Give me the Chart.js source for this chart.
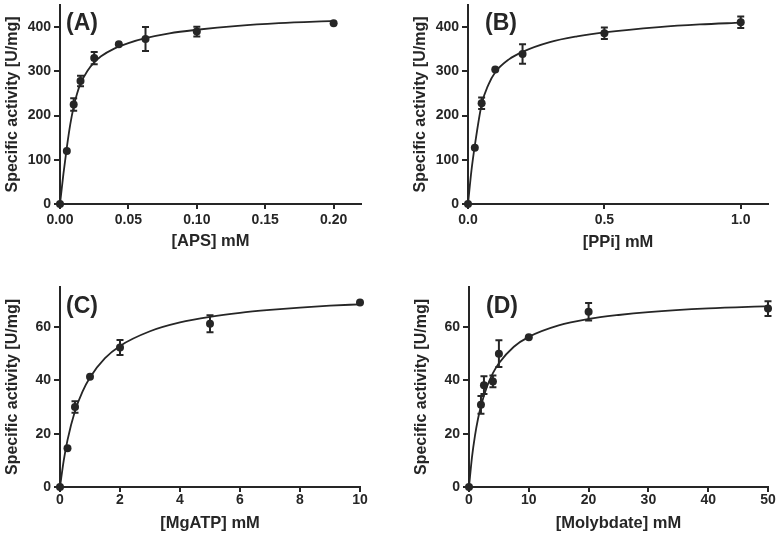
<!DOCTYPE html>
<html>
<head>
<meta charset="utf-8">
<script src="https://cdn.jsdelivr.net/npm/chart.js@4.4.1/dist/chart.umd.min.js"></script>
<style>
html,body{margin:0;padding:0;background:#ffffff;}
#wrap{position:relative;width:781px;height:541px;overflow:hidden;background:#ffffff;}
canvas{position:absolute;}
</style>
</head>
<body>
<div id="wrap">
<canvas id="cA" width="390" height="270" style="left:0px;top:0px"></canvas>
<canvas id="cB" width="373" height="270" style="left:408px;top:0px"></canvas>
<canvas id="cC" width="382" height="259" style="left:0px;top:282px"></canvas>
<canvas id="cD" width="372" height="259" style="left:409px;top:282px"></canvas>
</div>
<script>
// ---------- Panel A: [APS] ----------
const apsConc   = [0, 0.005, 0.01, 0.015, 0.025, 0.043, 0.0625, 0.1, 0.2];
const apsAct    = [0, 120, 225, 278, 330, 361, 373, 390, 409];
const apsErr    = [0, 0, 14, 12, 14, 0, 27, 11, 0];
const apsFitX   = [0, 0.0025, 0.005, 0.0075, 0.01, 0.0125, 0.015, 0.02, 0.025, 0.03, 0.04, 0.05, 0.0625, 0.08, 0.1, 0.13, 0.16, 0.2];
const apsFitY   = [0, 68, 128, 180, 220, 250, 272, 301, 320, 334, 352, 364, 375, 386, 394, 403, 409, 414];
const apsXTicks = [0, 0.05, 0.10, 0.15, 0.20];
const apsXLabels= ["0.00", "0.05", "0.10", "0.15", "0.20"];

// ---------- Panel B: [PPi] ----------
const ppiConc   = [0, 0.025, 0.05, 0.1, 0.2, 0.5, 1.0];
const ppiAct    = [0, 127, 228, 304, 339, 386, 411];
const ppiErr    = [0, 0, 13, 0, 22, 13, 13];
const ppiFitX   = [0, 0.0125, 0.025, 0.05, 0.075, 0.1, 0.15, 0.2, 0.3, 0.4, 0.5, 0.7, 0.85, 1.0];
const ppiFitY   = [0, 75, 132, 225, 270, 298, 327, 344, 366, 379, 388, 400, 406, 410];
const ppiXTicks = [0, 0.5, 1.0];
const ppiXLabels= ["0.0", "0.5", "1.0"];

// shared y ticks for top panels
const topYTicks  = [0, 100, 200, 300, 400];
const topYLabels = ["0", "100", "200", "300", "400"];

// ---------- Panel C: [MgATP] ----------
const atpConc   = [0, 0.25, 0.5, 1, 2, 5, 10];
const atpAct    = [0, 14.5, 30, 41.3, 52.3, 61.2, 69.2];
const atpErr    = [0, 0, 2.2, 0, 2.8, 3.2, 0];
const atpFitX   = [0, 0.125, 0.25, 0.5, 0.75, 1, 1.5, 2, 3, 4, 5, 6, 7, 8, 9, 10];
const atpFitY   = [0, 10.0, 17.6, 28.5, 35.8, 41.1, 48.3, 52.9, 58.4, 61.7, 63.8, 65.3, 66.4, 67.3, 68.0, 68.5];
const atpXTicks = [0, 2, 4, 6, 8, 10];
const atpXLabels= ["0", "2", "4", "6", "8", "10"];

// ---------- Panel D: [Molybdate] ----------
const moConc    = [0, 2, 2.5, 4, 5, 10, 20, 50];
const moAct     = [0, 30.8, 38.2, 39.6, 50, 56.2, 65.7, 66.9];
const moErr     = [0, 3.3, 3.3, 2.2, 5, 0, 3.3, 2.8];
const moFitX    = [0, 0.5, 1, 1.5, 2, 3, 4, 5, 7.5, 10, 15, 20, 25, 30, 40, 50];
const moFitY    = [0, 11.2, 19.3, 25.5, 30.4, 37.6, 42.7, 46.4, 52.6, 56.3, 60.6, 63.0, 64.5, 65.6, 67.0, 67.8];
const moXTicks  = [0, 10, 20, 30, 40, 50];
const moXLabels = ["0", "10", "20", "30", "40", "50"];

// shared y ticks for bottom panels
const botYTicks  = [0, 20, 40, 60];
const botYLabels = ["0", "20", "40", "60"];

const yTitle = "Specific activity [U/mg]";

const INK  = '#262626';
const FONT = "'Liberation Sans', Arial, Helvetica, sans-serif";

const errorBars = {
  id: 'errorBars',
  afterDatasetsDraw(chart) {
    const ctx = chart.ctx, xs = chart.scales.x, ys = chart.scales.y;
    chart.data.datasets.forEach(ds => {
      if (!ds.errors) return;
      ctx.save();
      ctx.strokeStyle = INK;
      ctx.lineWidth = 2;
      ds.data.forEach((p, j) => {
        const e = ds.errors[j];
        if (!e) return;
        const px = xs.getPixelForValue(p.x);
        const y1 = ys.getPixelForValue(p.y - e);
        const y2 = ys.getPixelForValue(p.y + e);
        ctx.beginPath();
        ctx.moveTo(px, y1); ctx.lineTo(px, y2);
        ctx.moveTo(px - 3.5, y1); ctx.lineTo(px + 3.5, y1);
        ctx.moveTo(px - 3.5, y2); ctx.lineTo(px + 3.5, y2);
        ctx.stroke();
      });
      ctx.restore();
    });
  }
};

const panelLabel = {
  id: 'panelLabel',
  afterDraw(chart, args, opts) {
    const ctx = chart.ctx, ca = chart.chartArea;
    ctx.save();
    ctx.font = `bold 23px ${FONT}`;
    ctx.fillStyle = INK;
    ctx.textBaseline = 'alphabetic';
    ctx.textAlign = 'left';
    ctx.fillText(opts.text, ca.left + opts.dx, ca.top + opts.dy);
    ctx.restore();
  }
};

function pts(xs, ys) { return xs.map((v, i) => ({x: v, y: ys[i]})); }

function makePanel(id, p) {
  return new Chart(document.getElementById(id), {
    type: 'scatter',
    data: {
      datasets: [
        {
          data: pts(p.fitX, p.fitY),
          showLine: true,
          borderColor: INK,
          borderWidth: 1.8,
          pointRadius: 0,
          cubicInterpolationMode: 'monotone',
          fill: false,
          clip: false,
          order: 2
        },
        {
          data: pts(p.x, p.y),
          errors: p.err,
          showLine: false,
          pointRadius: 4,
          pointBackgroundColor: INK,
          pointBorderColor: INK,
          pointBorderWidth: 0,
          clip: false,
          order: 1
        }
      ]
    },
    options: {
      responsive: false,
      animation: false,
      devicePixelRatio: 1,
      layout: { padding: { left: 0, top: 5, right: p.padRight, bottom: 0 } },
      plugins: {
        legend: { display: false },
        tooltip: { enabled: false },
        panelLabel: { text: p.label, dx: p.labelDx, dy: p.labelDy }
      },
      scales: {
        x: {
          type: 'linear', min: 0, max: p.xMax,
          afterBuildTicks: s => { s.ticks = p.xTicks.map(v => ({value: v})); },
          afterFit: s => { s.height = p.xAxisH; s.paddingLeft = 0; s.paddingRight = 0; },
          ticks: {
            callback: v => p.xLabels[p.xTicks.indexOf(v)],
            font: { family: FONT, size: 14, weight: 'bold' },
            color: INK, padding: p.xTickPad, maxRotation: 0, autoSkip: false
          },
          grid: { drawOnChartArea: false, drawTicks: true, tickLength: 5, color: INK, lineWidth: 2 },
          border: { display: true, color: INK, width: 2 },
          title: {
            display: true, text: p.xTitle, color: INK,
            font: { family: FONT, size: 16.5, weight: 'bold' },
            padding: { top: 0, bottom: p.xTitlePad }
          }
        },
        y: {
          type: 'linear', min: 0, max: p.yMax,
          afterBuildTicks: s => { s.ticks = p.yTicks.map(v => ({value: v})); },
          afterFit: s => { s.width = 60; s.paddingTop = 0; s.paddingBottom = 0; },
          ticks: {
            callback: v => p.yLabels[p.yTicks.indexOf(v)],
            font: { family: FONT, size: 14, weight: 'bold' },
            color: INK, padding: 3, autoSkip: false
          },
          grid: { drawOnChartArea: false, drawTicks: true, tickLength: 6, color: INK, lineWidth: 2 },
          border: { display: true, color: INK, width: 2 },
          title: {
            display: true, text: yTitle, color: INK,
            font: { family: FONT, size: 16, weight: 'bold' },
            padding: { top: 3, bottom: 0 }
          }
        }
      }
    },
    plugins: [errorBars, panelLabel]
  });
}

makePanel('cA', {
  x: apsConc, y: apsAct, err: apsErr, fitX: apsFitX, fitY: apsFitY,
  xTicks: apsXTicks, xLabels: apsXLabels, yTicks: topYTicks, yLabels: topYLabels,
  xMax: 0.22, yMax: 450, xTitle: "[APS] mM", label: "(A)",
  padRight: 29, xAxisH: 66, xTickPad: 3, xTitlePad: 19, labelDx: 6, labelDy: 25
});
makePanel('cB', {
  x: ppiConc, y: ppiAct, err: ppiErr, fitX: ppiFitX, fitY: ppiFitY,
  xTicks: ppiXTicks, xLabels: ppiXLabels, yTicks: topYTicks, yLabels: topYLabels,
  xMax: 1.1, yMax: 450, xTitle: "[PPi] mM", label: "(B)",
  padRight: 13, xAxisH: 66, xTickPad: 3, xTitlePad: 18, labelDx: 17, labelDy: 25
});
makePanel('cC', {
  x: atpConc, y: atpAct, err: atpErr, fitX: atpFitX, fitY: atpFitY,
  xTicks: atpXTicks, xLabels: atpXLabels, yTicks: botYTicks, yLabels: botYLabels,
  xMax: 10, yMax: 75, xTitle: "[MgATP] mM", label: "(C)",
  padRight: 22, xAxisH: 54, xTickPad: 0, xTitlePad: 8, labelDx: 6, labelDy: 26
});
makePanel('cD', {
  x: moConc, y: moAct, err: moErr, fitX: moFitX, fitY: moFitY,
  xTicks: moXTicks, xLabels: moXLabels, yTicks: botYTicks, yLabels: botYLabels,
  xMax: 50, yMax: 75, xTitle: "[Molybdate] mM", label: "(D)",
  padRight: 13, xAxisH: 54, xTickPad: 0, xTitlePad: 8, labelDx: 17, labelDy: 26
});
</script>
</body>
</html>
